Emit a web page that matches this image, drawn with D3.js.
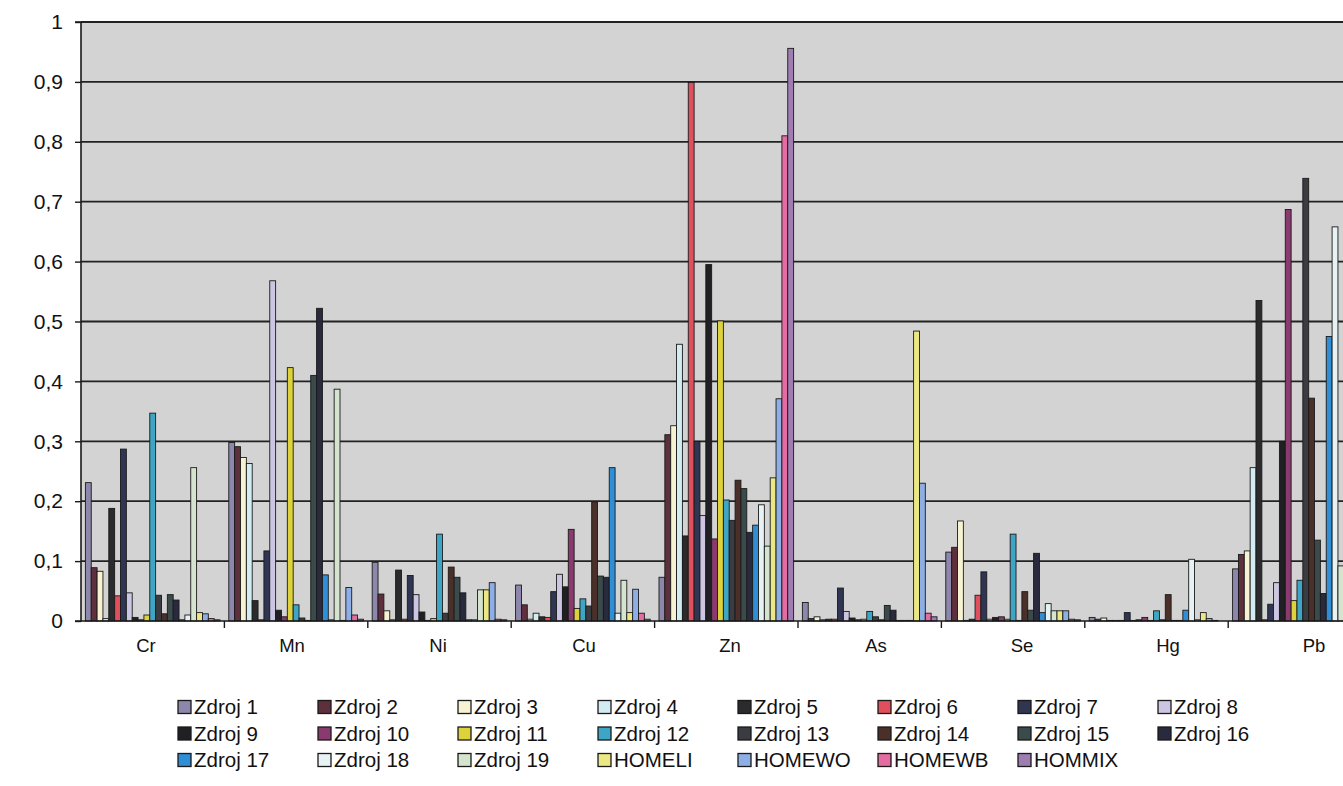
<!DOCTYPE html>
<html>
<head>
<meta charset="utf-8">
<script src="https://cdn.jsdelivr.net/npm/d3@7"></script>
<style>
  html, body { margin: 0; padding: 0; background: #ffffff; overflow: hidden; }
  svg { display: block; }
</style>
</head>
<body>
<svg id="chart" width="1343" height="786"></svg>
<script>
// ---------- DATA ----------
const categories = ["Cr", "Mn", "Ni", "Cu", "Zn", "As", "Se", "Hg", "Pb"];
const seriesNames = ["Zdroj 1","Zdroj 2","Zdroj 3","Zdroj 4","Zdroj 5","Zdroj 6","Zdroj 7","Zdroj 8",
  "Zdroj 9","Zdroj 10","Zdroj 11","Zdroj 12","Zdroj 13","Zdroj 14","Zdroj 15","Zdroj 16",
  "Zdroj 17","Zdroj 18","Zdroj 19","HOMELI","HOMEWO","HOMEWB","HOMMIX"];
const seriesColors = ["#8d88ab","#5e2f3d","#f7f3d2","#d3ecf1","#2b2b2d","#e0505c","#2f3552","#cdc6e2",
  "#202024","#8b3a70","#ddd23c","#3ea6c4","#3b3b42","#4b3029","#3b4a4a","#2a2a3e",
  "#2f8ed6","#e7f2f4","#d5e4cf","#ebe785","#8eafe6","#e56ca2","#9f7db2"];

// values per category, in series order (Zdroj 1 ... HOMMIX)
const valCr = [0.231,0.089,0.083,0.004,0.188,0.042,0.287,0.047,0.006,0.002,0.010,0.347,0.043,0.012,0.044,0.035,0.002,0.010,0.256,0.014,0.012,0.004,0.002];
const valMn = [0.298,0.291,0.273,0.263,0.034,0.002,0.117,0.568,0.018,0.007,0.423,0.027,0.005,0.001,0.410,0.522,0.077,0.002,0.387,0.001,0.056,0.010,0.003];
const valNi = [0.098,0.045,0.017,0.002,0.085,0.003,0.076,0.044,0.015,0.001,0.004,0.145,0.013,0.090,0.073,0.047,0.002,0.002,0.052,0.052,0.064,0.003,0.002];
const valCu = [0.060,0.027,0.003,0.013,0.007,0.006,0.049,0.078,0.057,0.153,0.021,0.037,0.025,0.199,0.075,0.073,0.256,0.013,0.068,0.014,0.053,0.013,0.003];
const valZn = [0.073,0.311,0.326,0.462,0.142,0.899,0.300,0.176,0.595,0.137,0.501,0.202,0.168,0.235,0.221,0.148,0.160,0.194,0.125,0.239,0.371,0.810,0.956];
const valAs = [0.031,0.004,0.007,0.002,0.003,0.003,0.055,0.016,0.005,0.002,0.003,0.016,0.007,0.002,0.026,0.018,0.001,0.001,0.001,0.484,0.230,0.013,0.007];
const valSe = [0.115,0.123,0.167,0.001,0.003,0.043,0.082,0.003,0.006,0.007,0.003,0.145,0.001,0.049,0.018,0.113,0.014,0.029,0.017,0.017,0.017,0.003,0.002];
const valHg = [0.006,0.003,0.005,0.001,0.001,0.001,0.014,0.001,0.002,0.006,0.001,0.017,0.002,0.044,0.001,0.001,0.018,0.103,0.002,0.014,0.004,0.001,0.000];
const valPb = [0.087,0.111,0.117,0.256,0.535,0.002,0.028,0.064,0.300,0.687,0.034,0.068,0.739,0.372,0.135,0.046,0.475,0.658,0.092,0.150,0.100,0.050,0.100];

const yTicks = [0,0.1,0.2,0.3,0.4,0.5,0.6,0.7,0.8,0.9,1];

const valuesByCategory = [valCr, valMn, valNi, valCu, valZn, valAs, valSe, valHg, valPb];
const table = [];
categories.forEach((c, ci) => {
  seriesNames.forEach((s, si) => {
    table.push({ cat: c, series: s, si: si, value: valuesByCategory[ci][si] });
  });
});

// ---------- LAYOUT ----------
const svg = d3.select("#chart");
const FONT = "'Liberation Sans', Arial, sans-serif";
const plotLeft = 81, plotTop = 21, plotBottom = 621;
const catWidth = 143.4;
const plotRight = plotLeft + catWidth * categories.length;

const x0 = d3.scaleBand().domain(categories).range([plotLeft, plotRight]).paddingInner(0).paddingOuter(0);
const x1 = d3.scaleBand().domain(seriesNames).range([0, x0.bandwidth()]).paddingInner(0).paddingOuter(0.75);
const xLabel = d3.scaleBand().domain(categories).range([73, 73 + 146 * categories.length]);
const y = d3.scaleLinear().domain([0, 1]).range([plotBottom, 22]);

// plot background
svg.append("rect")
  .attr("x", plotLeft).attr("y", plotTop)
  .attr("width", plotRight - plotLeft).attr("height", plotBottom - plotTop)
  .attr("fill", "#d3d3d3");

// gridlines
svg.append("g")
  .selectAll("line")
  .data(yTicks.filter(d => d > 0))
  .join("line")
  .attr("x1", plotLeft).attr("x2", plotRight)
  .attr("y1", d => y(d)).attr("y2", d => y(d))
  .attr("stroke", "#222").attr("stroke-width", 1.8);

// bars
svg.append("g")
  .selectAll("rect")
  .data(table)
  .join("rect")
  .attr("x", d => x0(d.cat) + x1(d.series))
  .attr("width", x1.bandwidth())
  .attr("y", d => y(d.value))
  .attr("height", d => y(0) - y(d.value))
  .attr("fill", d => seriesColors[d.si])
  .attr("stroke", "#1a1a1a")
  .attr("stroke-width", 0.9);

// y axis
const yAxis = d3.axisLeft(y)
  .tickValues(yTicks)
  .tickSize(6)
  .tickPadding(12)
  .tickFormat(d => d === 0 ? "0" : d === 1 ? "1" : d3.format(".1f")(d).replace(".", ","));
const gy = svg.append("g").attr("transform", `translate(${plotLeft},0)`).call(yAxis);
gy.select(".domain").attr("stroke", "#1a1a1a").attr("stroke-width", 1.6).attr("d", `M-6,${y(1)}H0V${y(0)}H-6`);
gy.selectAll(".tick line").attr("stroke", "#1a1a1a").attr("stroke-width", 1.4);
gy.selectAll(".tick text")
  .attr("font-family", FONT)
  .attr("font-size", 21).attr("fill", "#111");

// x axis line + category boundary ticks
const xAxis = d3.axisBottom(x0).tickSize(0).tickFormat("");
const gx = svg.append("g").attr("transform", `translate(0,${plotBottom})`).call(xAxis);
gx.select(".domain").attr("stroke", "#1a1a1a").attr("stroke-width", 1.6).attr("d", `M${plotLeft},0H${plotRight}`);
svg.append("g")
  .selectAll("line")
  .data(categories)
  .join("line")
  .attr("x1", d => x0(d) + x0.bandwidth()).attr("x2", d => x0(d) + x0.bandwidth())
  .attr("y1", plotBottom).attr("y2", plotBottom + 7)
  .attr("stroke", "#1a1a1a").attr("stroke-width", 1.4);

// category labels
const gl = svg.append("g").attr("transform", `translate(0,${plotBottom})`)
  .call(d3.axisBottom(xLabel).tickSize(0).tickPadding(18));
gl.select(".domain").remove();
gl.selectAll(".tick text")
  .attr("font-family", FONT)
  .attr("font-size", 18.5).attr("fill", "#111");

// legend
const legCols = 8, legX0 = 178, legPitchX = 140, legY0 = 707, legPitchY = 26.5;
const leg = svg.append("g")
  .selectAll("g")
  .data(seriesNames)
  .join("g")
  .attr("transform", (d, i) => `translate(${legX0 + (i % legCols) * legPitchX},${legY0 + Math.floor(i / legCols) * legPitchY})`);
leg.append("rect")
  .attr("x", 0).attr("y", -6.5).attr("width", 13).attr("height", 13)
  .attr("fill", (d, i) => seriesColors[i])
  .attr("stroke", "#1a1a1a").attr("stroke-width", 1.3);
leg.append("text")
  .attr("x", 16).attr("y", 0).attr("dy", "0.36em")
  .attr("font-family", FONT)
  .attr("font-size", 20.5).attr("fill", "#111")
  .text(d => d);
</script>
</body>
</html>
